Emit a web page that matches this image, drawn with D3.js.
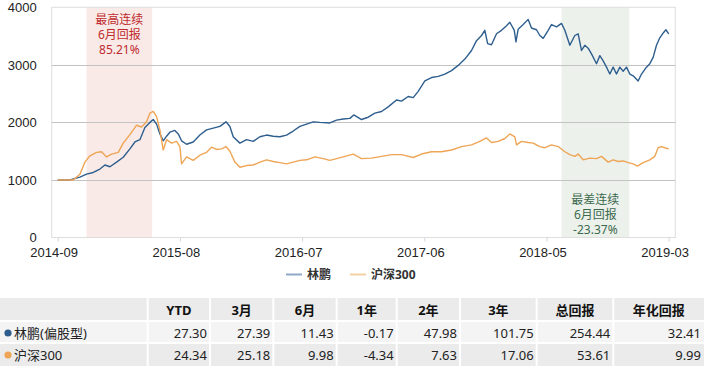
<!DOCTYPE html>
<html>
<head>
<meta charset="utf-8">
<script src="https://cdn.jsdelivr.net/npm/d3@7"></script>
<style>
  body { margin: 0; background: #fff; }
  svg { display: block; font-family: "Noto Sans", "Noto Sans CJK SC", sans-serif; }
</style>
</head>
<body>
<div id="chart"></div>
<script>
// chart data (x = trading-day index)
const tickDays = [0, 220, 440, 660, 880, 1100];
const tickLabels = ["2014-09", "2015-08", "2016-07", "2017-06", "2018-05", "2019-03"];
const yTicks = [0, 1000, 2000, 3000, 4000];

const linpengDays = [0,22,40,52,64,76,85,94,106,118,130,139,148,157,166,172,178,184,190,196,202,211,217,223,232,244,256,268,280,292,303,310,316,328,340,352,364,376,388,400,412,424,436,448,460,472,490,502,514,526,533,547,559,571,583,595,610,619,631,640,649,661,673,685,697,709,721,733,745,754,763,769,774,781,790,799,808,814,822,825,829,838,847,853,862,868,874,883,889,898,907,913,922,931,937,943,949,955,961,970,976,982,988,994,1000,1006,1012,1018,1024,1030,1036,1045,1051,1060,1066,1072,1078,1084,1089,1095,1100];
const linpengNav = [1000,1000,1050,1100,1130,1190,1260,1230,1310,1395,1540,1660,1700,1910,2000,2050,1970,1800,1680,1760,1830,1860,1800,1680,1620,1660,1780,1870,1900,1930,2010,1930,1750,1640,1700,1670,1750,1780,1760,1750,1780,1850,1930,1970,2010,2000,1990,2040,2060,2070,2130,2050,2090,2160,2190,2270,2390,2370,2450,2430,2540,2720,2780,2800,2840,2900,2990,3100,3250,3420,3510,3600,3370,3350,3540,3600,3680,3740,3600,3400,3620,3700,3790,3640,3610,3510,3460,3600,3700,3660,3720,3600,3340,3510,3540,3250,3340,3290,3190,3020,3160,3070,2960,2840,2960,2840,2960,2890,2960,2840,2810,2720,2840,2960,3020,3130,3340,3470,3540,3610,3540];

const hs300Days = [0,28,40,49,58,70,79,88,97,109,118,127,136,142,151,160,166,172,178,184,190,196,205,214,220,223,232,244,256,268,277,286,295,303,310,319,328,340,352,364,376,388,400,412,424,436,448,463,478,490,502,514,532,547,565,583,601,619,640,655,673,691,709,727,745,760,772,781,793,805,814,823,826,835,847,856,868,877,889,901,913,922,931,937,946,958,970,979,991,1000,1009,1018,1027,1036,1044,1054,1066,1075,1081,1087,1093,1100];
const hs300Nav = [1000,1000,1100,1310,1420,1480,1490,1400,1450,1480,1640,1750,1870,1950,1920,2010,2160,2190,2100,1870,1520,1700,1640,1670,1580,1280,1400,1340,1430,1480,1570,1530,1540,1580,1500,1310,1220,1250,1260,1310,1350,1320,1300,1280,1310,1340,1350,1400,1370,1340,1370,1400,1450,1370,1380,1410,1440,1440,1390,1450,1490,1490,1520,1580,1610,1670,1730,1650,1670,1720,1800,1750,1610,1670,1650,1640,1580,1560,1610,1580,1490,1440,1410,1450,1350,1380,1370,1410,1310,1350,1320,1330,1300,1280,1240,1300,1350,1410,1560,1580,1560,1540];

const bestPeriod = [52, 170];
const worstPeriod = [907, 1029];
const bestText = ["最高连续", "6月回报", "85.21%"];
const worstText = ["最差连续", "6月回报", "-23.37%"];

const seriesNames = ["林鹏", "沪深300"];
const tableHeaders = ["YTD", "3月", "6月", "1年", "2年", "3年", "总回报", "年化回报"];
const rowNames = ["林鹏(偏股型)", "沪深300"];
const linpengReturns = [27.30, 27.39, 11.43, -0.17, 47.98, 101.75, 254.44, 32.41];
const hs300Returns = [24.34, 25.18, 9.98, -4.34, 7.63, 17.06, 53.61, 9.99];

// layout
const width = 706, height = 368;
const plotL = 51.7, plotR = 675.3, plotT = 7.3, plotB = 237.5;
const blue = "#2e5e8e", orange = "#eea555";

const svg = d3.select("#chart")
    .append("svg")
        .attr("width", width)
        .attr("height", height);

const x = d3.scaleLinear().domain([0, 1100]).range([57.7, 668.7]);
const y = d3.scaleLinear().domain([0, 4000]).range([plotB, plotT]);

// shaded periods
const bands = [
    {p: bestPeriod, fill: "#f9eae8"},
    {p: worstPeriod, fill: "#edf1ec"}
];
svg.selectAll("rect.band")
    .data(bands)
    .join("rect")
        .attr("class", "band")
        .attr("x", d => x(d.p[0]))
        .attr("y", plotT)
        .attr("width", d => x(d.p[1]) - x(d.p[0]))
        .attr("height", plotB - plotT)
        .style("fill", d => d.fill);

// frame
svg.append("rect")
    .attr("x", plotL).attr("y", plotT)
    .attr("width", plotR - plotL).attr("height", plotB - plotT)
    .style("fill", "none")
    .style("stroke", "#dedede");

// grid lines
svg.selectAll("line.grid")
    .data(yTicks.filter(d => d > 0 && d < 4000))
    .join("line")
        .attr("class", "grid")
        .attr("x1", plotL).attr("x2", plotR)
        .attr("y1", d => Math.round(y(d)) + 0.5)
        .attr("y2", d => Math.round(y(d)) + 0.5)
        .style("stroke", "#c3c3c3");

// y axis
const yAxis = svg.append("g")
    .attr("transform", `translate(${plotL},0)`)
    .call(d3.axisLeft(y).tickValues(yTicks).tickSize(0).tickPadding(15).tickFormat(d3.format("d")));
yAxis.select(".domain").remove();
yAxis.selectAll("text")
    .style("font-size", "13px")
    .style("fill", "#222")
    .style("font-family", null);

// x axis
const xAxis = svg.append("g")
    .attr("transform", `translate(0,${plotB})`)
    .call(d3.axisBottom(x).tickValues(tickDays).tickSize(4).tickPadding(6)
        .tickFormat((d, i) => tickLabels[i]));
xAxis.select(".domain").remove();
xAxis.selectAll("line").style("stroke", "#cfd8e2");
xAxis.selectAll("text")
    .attr("dx", -4)
    .style("font-size", "13px")
    .style("fill", "#222")
    .style("font-family", null);

// annotations
function note(lines, period, y0, color) {
    svg.append("g").selectAll("text")
        .data(lines)
        .join("text")
            .attr("x", (x(period[0]) + x(period[1])) / 2)
            .attr("y", (d, i) => y0 + i * 15)
            .attr("text-anchor", "middle")
            .style("font-size", "12px")
            .style("fill", color)
            .text(d => d);
}
note(bestText, bestPeriod, 24, "#bf2a2e");
note(worstText, worstPeriod, 203.5, "#3b6a4c");

// lines
const line = d3.line()
    .x(d => x(d[0]))
    .y(d => y(d[1]));

svg.append("path")
    .datum(d3.zip(linpengDays, linpengNav))
    .attr("d", line)
    .style("fill", "none")
    .style("stroke", blue)
    .style("stroke-width", 1.4)
    .style("stroke-linejoin", "round");

svg.append("path")
    .datum(d3.zip(hs300Days, hs300Nav))
    .attr("d", line)
    .style("fill", "none")
    .style("stroke", orange)
    .style("stroke-width", 1.4)
    .style("stroke-linejoin", "round");

// legend
const legend = [
    {name: seriesNames[0], color: "#8ea9c6", x: 286},
    {name: seriesNames[1], color: "#f4d1a3", x: 350}
];
const lg = svg.selectAll("g.legend")
    .data(legend)
    .join("g")
        .attr("class", "legend")
        .attr("transform", d => `translate(${d.x},274.5)`);
lg.append("line")
    .attr("x1", 0).attr("x2", 16)
    .style("stroke", d => d.color)
    .style("stroke-width", 2);
lg.append("text")
    .attr("x", 21)
    .attr("dy", "0.36em")
    .style("font-size", "12px")
    .style("font-weight", "bold")
    .style("fill", "#333")
    .text(d => d.name);

// table
const colEdges = [0, 147.7, 210, 273.3, 336.7, 396.7, 460, 536.7, 613.3, 704];
const rowTops = [298, 322, 344, 366];
const rowFills = ["#ebebeb", "#f4f4f4", "#ebebeb"];

const table = svg.append("g");
rowFills.forEach((f, r) => {
    table.append("rect")
        .attr("x", 0).attr("y", rowTops[r])
        .attr("width", colEdges[colEdges.length - 1])
        .attr("height", rowTops[r + 1] - rowTops[r] - (r < 2 ? 2 : 0))
        .style("fill", f);
});
table.selectAll("line.sep")
    .data(colEdges.slice(1, -1))
    .join("line")
        .attr("class", "sep")
        .attr("x1", d => d).attr("x2", d => d)
        .attr("y1", rowTops[0]).attr("y2", rowTops[3])
        .style("stroke", "#fff")
        .style("stroke-width", 2);

// header
table.selectAll("text.head")
    .data(tableHeaders)
    .join("text")
        .attr("class", "head")
        .attr("x", (d, i) => (colEdges[i + 1] + colEdges[i + 2]) / 2)
        .attr("y", 310)
        .attr("dy", "0.36em")
        .attr("text-anchor", "middle")
        .style("font-size", "13px")
        .style("font-weight", "bold")
        .style("fill", "#111")
        .text(d => d);

const rows = [
    {name: rowNames[0], vals: linpengReturns, color: blue, cy: 333},
    {name: rowNames[1], vals: hs300Returns, color: orange, cy: 355}
];
rows.forEach(r => {
    table.append("circle")
        .attr("cx", 8).attr("cy", r.cy).attr("r", 3.6)
        .style("fill", r.color);
    table.append("text")
        .attr("x", 14).attr("y", r.cy).attr("dy", "0.36em")
        .style("font-size", "13px")
        .style("fill", "#222")
        .text(r.name);
    table.append("g").selectAll("text")
        .data(r.vals)
        .join("text")
            .attr("x", (d, i) => colEdges[i + 2] - 3)
            .attr("y", r.cy)
            .attr("dy", "0.36em")
            .attr("text-anchor", "end")
            .style("font-size", "13px")
            .style("fill", "#222")
            .text(d => d.toFixed(2));
});
</script>
</body>
</html>
